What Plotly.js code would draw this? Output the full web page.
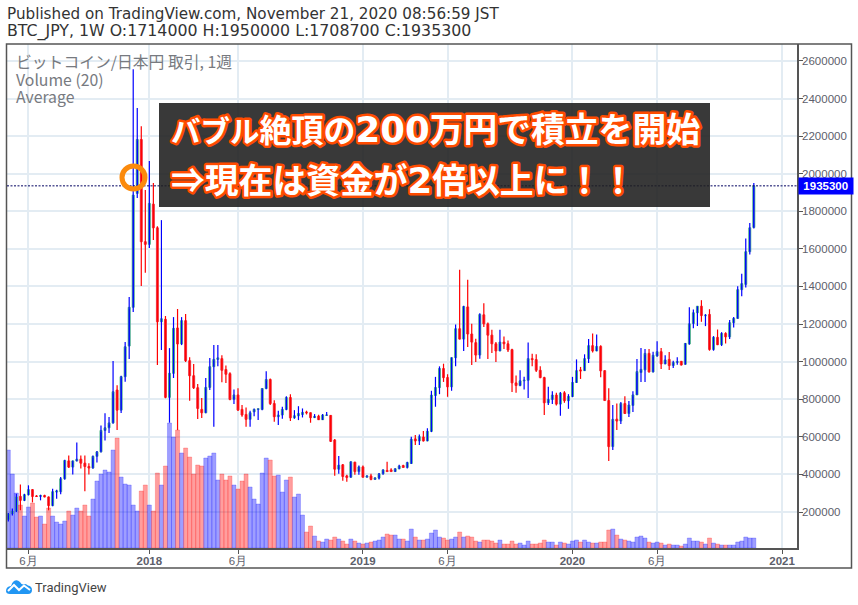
<!DOCTYPE html>
<html><head><meta charset="utf-8">
<script src="https://cdn.plot.ly/plotly-3.0.1.min.js"></script>
<style>html,body{margin:0;padding:0;background:#fff}</style></head>
<body><div id="chart" style="width:858px;height:605px"></div>
<script>
const firstWeek = '2017-05-01';
const opens = [160000,191000,205000,283000,262000,292000,319000,285000,283000,288000,280000,234000,306000,308000,377000,472000,439000,472000,481000,460000,442000,434000,496000,520000,634000,648000,674000,849000,742000,920000,1083000,1289000,1895000,2182000,1638000,1624000,1838000,1712000,1212000,1225000,810000,938000,1179000,1094000,1218000,1005000,925000,861000,746000,728000,863000,973000,1012000,1016000,958000,936000,799000,823000,746000,719000,693000,733000,746000,746000,857000,905000,777000,707000,716000,746000,809000,701000,712000,719000,732000,728000,702000,710000,691000,714000,714000,583000,428000,451000,392000,385000,465000,415000,440000,385000,392000,373000,380000,403000,421000,424000,415000,430000,447000,437000,458000,589000,578000,599000,578000,629000,820000,862000,963000,915000,866000,1021000,1175000,1120000,1291000,1147000,1101000,1035000,1249000,1201000,1141000,1095000,1057000,1104000,1095000,1064000,887000,873000,898000,901000,1016000,1011000,954000,915000,781000,799000,822000,774000,834000,792000,815000,889000,956000,952000,1016000,1085000,1057000,1081000,952000,793000,548000,694000,684000,777000,724000,767000,823000,942000,956000,1044000,945000,1030000,1053000,988000,1012000,979000,996000,1002000,986000,1094000,1203000,1260000,1295000,1244000,1251000,1065000,1129000,1090000,1150000,1132000,1207000,1230000,1383000,1411000,1585000,1714000];
const closes = [190000,205000,280000,262000,292000,319000,283000,283000,288000,280000,234000,308000,312000,377000,474000,439000,472000,481000,460000,442000,434000,496000,520000,634000,648000,674000,840000,742000,920000,1079000,1289000,1886000,2182000,1638000,1624000,1842000,1712000,1212000,1228000,810000,938000,1177000,1094000,1218000,1005000,925000,861000,751000,728000,863000,973000,1012000,1020000,954000,933000,799000,823000,742000,716000,693000,728000,746000,749000,857000,905000,777000,707000,716000,746000,809000,701000,712000,724000,730000,728000,702000,709000,691000,716000,716000,576000,428000,449000,389000,384000,467000,415000,440000,385000,392000,373000,382000,403000,424000,415000,415000,430000,445000,437000,463000,587000,578000,601000,578000,629000,822000,862000,963000,915000,866000,1021000,1175000,1120000,1293000,1147000,1104000,1035000,1251000,1201000,1141000,1095000,1057000,1104000,1095000,1062000,887000,873000,898000,901000,1016000,1011000,954000,915000,781000,799000,822000,774000,832000,792000,815000,889000,952000,951000,1016000,1085000,1057000,1081000,951000,793000,548000,693000,684000,777000,724000,769000,823000,947000,959000,1044000,945000,1034000,1053000,988000,1009000,979000,996000,1000000,982000,1097000,1201000,1260000,1295000,1245000,1247000,1065000,1129000,1090000,1150000,1132000,1207000,1230000,1383000,1415000,1585000,1712000,1935300];
const highs = [195000,218000,297000,347000,297000,342000,322000,290000,292000,292000,283000,324000,318000,386000,478000,501000,474000,570000,501000,501000,460000,501000,524000,660000,725000,705000,1003000,875000,925000,1104000,1344000,2555000,2349000,2253000,1913000,2067000,1950000,1720000,1753000,1243000,1072000,1237000,1280000,1237000,1253000,1024000,987000,881000,806000,913000,1019000,1088000,1088000,1034000,979000,943000,852000,859000,769000,756000,739000,751000,751000,859000,949000,910000,795000,739000,760000,816000,827000,742000,763000,751000,739000,730000,721000,717000,721000,732000,716000,589000,498000,456000,398000,470000,467000,447000,447000,396000,403000,384000,408000,428000,467000,433000,433000,451000,451000,468000,601000,610000,613000,631000,645000,845000,919000,975000,989000,933000,1023000,1198000,1489000,1298000,1436000,1201000,1122000,1258000,1311000,1208000,1170000,1104000,1170000,1134000,1113000,1069000,926000,954000,919000,1102000,1042000,1039000,975000,919000,866000,843000,834000,838000,843000,827000,919000,1012000,972000,1039000,1120000,1150000,1145000,1087000,954000,859000,769000,777000,785000,816000,790000,843000,1014000,1072000,1067000,1067000,1053000,1109000,1072000,1034000,1051000,1005000,1023000,1003000,1099000,1290000,1277000,1295000,1327000,1253000,1279000,1136000,1171000,1157000,1157000,1221000,1238000,1401000,1468000,1655000,1737000,1950000];
const lows = [150000,182000,200000,209000,258000,288000,251000,280000,262000,278000,209000,230000,271000,294000,372000,434000,400000,469000,432000,311000,400000,430000,464000,517000,580000,620000,670000,636000,727000,893000,1014000,1264000,1870000,1402000,1473000,1604000,1647000,982000,1062000,805000,675000,913000,636000,1088000,998000,792000,854000,695000,700000,726000,849000,654000,976000,891000,887000,795000,774000,739000,707000,654000,654000,710000,689000,742000,853000,769000,680000,663000,696000,742000,684000,696000,689000,703000,719000,675000,700000,689000,689000,712000,573000,393000,403000,366000,361000,382000,398000,398000,384000,384000,369000,371000,373000,398000,414000,414000,413000,427000,435000,431000,456000,557000,557000,575000,577000,625000,760000,827000,892000,813000,845000,975000,1118000,1057000,1078000,982000,998000,1016000,1184000,1014000,1046000,998000,1055000,1067000,1051000,838000,834000,869000,852000,807000,975000,945000,912000,716000,769000,774000,767000,712000,781000,749000,811000,887000,908000,951000,993000,1049000,1055000,917000,792000,472000,530000,636000,668000,721000,705000,732000,822000,892000,892000,942000,942000,1026000,961000,986000,956000,966000,984000,979000,984000,1090000,1178000,1189000,1212000,1189000,1058000,1058000,1088000,1083000,1097000,1120000,1182000,1228000,1348000,1394000,1570000,1708700];
const volumes = [98,74,55,43,32,41,45,31,32,24,40,32,26,24,27,37,33,40,37,43,32,49,67,74,78,76,98,110,71,64,63,43,37,57,63,43,37,75,63,82,125,111,118,95,100,91,74,83,82,90,92,95,68,74,68,72,63,59,67,74,61,49,44,75,90,88,72,73,56,68,71,51,54,33,16,22,12,7,6,9,8,11,9,7,4,9,7,5,4,5,6,7,8,11,14,13,13,9,9,7,19,11,8,8,9,15,18,11,10,8,9,11,16,11,12,11,7,6,8,8,7,5,8,4,4,7,4,5,3,7,4,4,5,8,6,6,3,6,5,4,7,8,6,8,6,5,5,6,6,18,19,13,9,8,7,6,11,12,10,6,5,6,5,3,4,3,3,2,4,10,7,7,6,4,10,5,4,3,3,3,3,6,7,11,10,10];
const tickDates = ['2017-06-05','2018-01-01','2018-06-04','2019-01-07','2019-06-03','2020-01-06','2020-06-01','2021-01-04'];
const tickLabels = ['6月','<b>2018</b>','6月','<b>2019</b>','6月','<b>2020</b>','6月','<b>2021</b>'];
const priceTicks = [200000,400000,600000,800000,1000000,1200000,1400000,1600000,1800000,2000000,2200000,2400000,2600000];
const lastPrice = 1935300;
const headerLines = ['Published on TradingView.com, November 21, 2020 08:56:59 JST','BTC_JPY, 1W O:1714000 H:1950000 L:1708700 C:1935300'];
const legendLines = ['ビットコイン/日本円 取引, 1週','Volume (20)','Average'];
const digitStyle = "font-family:'DejaVu Sans';font-weight:bold;font-size:35.5px";
const bannerLines = [
  '<span style="font-size:29.5px">バブル</span><span style="font-size:32px">絶頂の</span><span style="'+digitStyle+'">200</span>万円で積立を開始',
  '⇒現在は資金が<span style="'+digitStyle+'">2</span>倍以上に！！'
];

const dates = opens.map((_, i) => {
  const d = new Date(firstWeek + 'T00:00:00Z');
  d.setUTCDate(d.getUTCDate() + 7 * i);
  return d.toISOString().slice(0, 10);
});
const isUp = opens.map((o, i) => closes[i] >= o);
const px = v => (v - 7) / 790;
const py = v => (548 - v) / 504;

const mono = {family:'"Liberation Sans", Arial, sans-serif', size:11.5, color:'#5d606b'};
const head1 = {family:'"DejaVu Sans", sans-serif', size:15.2, color:'#333333'};
const head2 = {family:'"DejaVu Sans", sans-serif', size:15.8, color:'#333333'};
const lgnd = {family:'"Noto Sans CJK JP", sans-serif', size:15.8, color:'#777a80'};
const banner = {family:'"Noto Sans CJK JP", sans-serif', size:33.8, color:'#ffffff', weight:700};

const wick = up => {
  const xs = [], ys = [];
  dates.forEach((d, i) => { if (isUp[i] === up) { xs.push(d, d, null); ys.push(lows[i], highs[i], null); } });
  return {type:'scatter', mode:'lines', x:xs, y:ys, yaxis:'y2', xaxis:'x', connectgaps:false,
    line:{color: up ? '#0000ff' : '#ff0000', width:1.2}, hoverinfo:'skip', showlegend:false};
};

const traces = [
  {type:'bar', x:dates, y:volumes, yaxis:'y', xaxis:'x', width:7*864e5,
   marker:{color:isUp.map(u => u ? 'rgba(0,0,255,0.38)' : 'rgba(255,0,0,0.38)'),
           line:{width:1, color:isUp.map(u => u ? 'rgba(30,30,255,0.25)' : 'rgba(255,30,30,0.25)')}},
   hoverinfo:'skip', showlegend:false},
  {type:'candlestick', x:dates, open:opens, close:closes,
   high:opens.map((o,i) => Math.max(o, closes[i])), low:opens.map((o,i) => Math.min(o, closes[i])),
   yaxis:'y2', xaxis:'x',
   increasing:{line:{color:'#53b987', width:1}, fillcolor:'#0000ff'},
   decreasing:{line:{color:'#f03c4c', width:1}, fillcolor:'#ff0000'},
   whiskerwidth:0, hoverinfo:'skip', showlegend:false},
  wick(true), wick(false)
];

const logoFill = 'M0,3 Q0,0 4,0 L22,0 Q26,0 26,4 Q26,8 22,8.5 Q20,11 17,9.5 Q15,10 14,12 Q11,15 8,13 Q6,11.5 5,8 Q0,7.5 0,3 Z';
const logoLine = 'M2,3 L8,9 L13,4 L18,8.5 L24,4';

const shapes = [
  {type:'rect', xref:'paper', yref:'paper', x0:px(6.5), x1:px(851.5), y0:py(568), y1:py(44), line:{color:'#555555', width:1.5}, fillcolor:'rgba(0,0,0,0)'},
  {type:'line', xref:'paper', yref:'y2', x0:0, x1:1, y0:lastPrice, y1:lastPrice, line:{color:'#000060', width:1, dash:'2px,1.5px'}},
  {type:'rect', xref:'paper', yref:'paper', x0:px(159), x1:px(710), y0:py(207), y1:py(103), line:{width:0}, fillcolor:'rgba(30,30,30,0.88)'},
  {type:'circle', xref:'paper', yref:'paper', xsizemode:'pixel', ysizemode:'pixel', xanchor:px(133.5), yanchor:py(177.5), x0:-11.5, x1:11.5, y0:-11.5, y1:11.5, line:{color:'#fb8a0c', width:5}},
  {type:'path', xref:'paper', yref:'paper', xsizemode:'pixel', ysizemode:'pixel', xanchor:px(6), yanchor:py(594), path:logoFill, fillcolor:'#2196f3', line:{width:0}},
  {type:'path', xref:'paper', yref:'paper', xsizemode:'pixel', ysizemode:'pixel', xanchor:px(6), yanchor:py(594), path:logoLine, line:{color:'#ffffff', width:2}}
];

const note = (text, x, y, font, extra) => Object.assign({text, xref:'paper', yref:'paper', x:px(x), y:py(y), xanchor:'left', yanchor:'middle', showarrow:false, borderpad:0, font}, extra||{});
const annotations = [
  note(headerLines[0], 6, 14, head1),
  note(headerLines[1], 6, 31, head2),
  note(legendLines[0], 15, 62, lgnd),
  note(legendLines[1], 15, 80, lgnd),
  note(legendLines[2], 15, 97, lgnd),
  note(bannerLines[0], 170, 128, banner),
  note(bannerLines[1], 170, 178, banner),
  note('TradingView', 34, 587, {family:'Roboto, sans-serif', size:13, color:'#444444'}),
  {text:'<b>'+lastPrice+'</b>', xref:'paper', yref:'y2', x:px(797.5), y:lastPrice, xanchor:'left', yanchor:'middle', width:53.5, height:16, align:'center', showarrow:false, borderpad:0, bgcolor:'#0000ff', font:{family:'"Liberation Sans", Arial, sans-serif', size:11.5, color:'#ffffff'}}
];

const layout = {
  width:858, height:605, margin:{l:7, r:61, t:44, b:57}, paper_bgcolor:'#ffffff', plot_bgcolor:'#ffffff',
  showlegend:false, boxmode:'overlay', boxgap:0.3, barmode:'overlay', dragmode:false,
  xaxis:{type:'date', range:['2017-04-28 18:00','2021-01-30 00:00'], tickmode:'array', tickvals:tickDates, ticktext:tickLabels,
    showgrid:true, gridcolor:'#e3ecf3', gridwidth:1.5, showline:true, linecolor:'#555555', linewidth:1.5,
    ticks:'outside', ticklen:4, tickcolor:'#555555', tickfont:mono, ticklabelstandoff:-3, rangeslider:{visible:false}, zeroline:false, fixedrange:true},
  yaxis:{range:[0,504], visible:false, fixedrange:true},
  yaxis2:{overlaying:'y', side:'right', range:[8500,2690000], tickmode:'array', tickvals:priceTicks, ticktext:priceTicks.map(String),
    showgrid:true, gridcolor:'#e3ecf3', gridwidth:1.5, showline:true, linecolor:'#555555', linewidth:1.5,
    ticks:'outside', ticklen:4, tickcolor:'#555555', tickfont:mono, ticklabelstandoff:-3, zeroline:false, fixedrange:true, anchor:'x'},
  shapes, annotations
};

function outline() {
  document.querySelectorAll('.annotation-text').forEach(t => {
    if (/バブル|資金/.test(t.textContent)) {
      t.style.stroke = '#ff4b00';
      t.style.strokeWidth = '5px';
      t.style.strokeLinejoin = 'round';
      t.style.paintOrder = 'stroke';
    }
  });
}
Plotly.newPlot('chart', traces, layout, {displayModeBar:false}).then(gd => { outline(); gd.on('plotly_afterplot', outline); });
</script></body></html>
